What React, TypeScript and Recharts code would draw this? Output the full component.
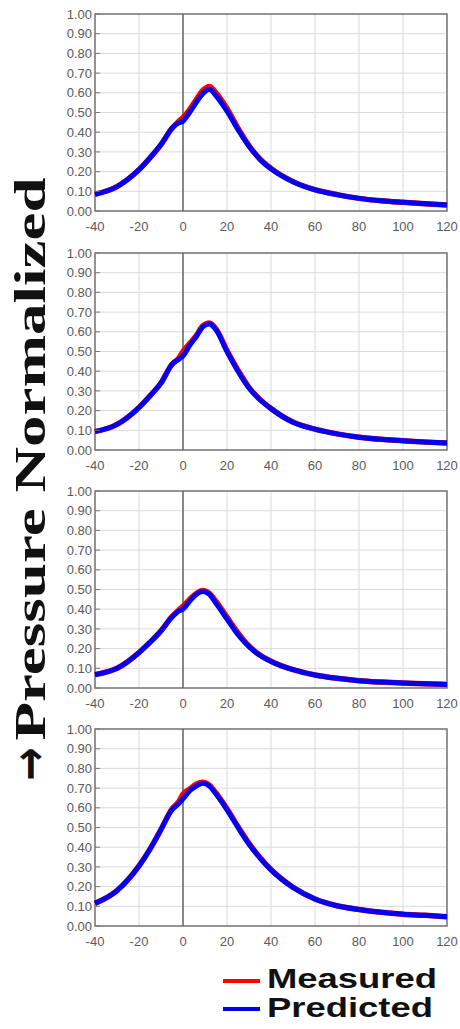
import React from "react";
import { LineChart, Line, XAxis, YAxis, CartesianGrid, ReferenceLine, ReferenceArea } from "recharts";

// shared x positions (time) for all four panels
const xValues = [-40, -30, -20, -15, -10, -5, -2, 0, 3, 6, 9, 12, 15, 20, 25, 30, 35, 40, 50, 60, 70, 80, 90, 100, 110, 120];

const measured1 = [0.085, 0.124, 0.21, 0.27, 0.337, 0.42, 0.455, 0.475, 0.515, 0.565, 0.612, 0.632, 0.6, 0.52, 0.42, 0.332, 0.264, 0.216, 0.149, 0.108, 0.083, 0.064, 0.052, 0.044, 0.037, 0.031];
const predicted1 = [0.085, 0.124, 0.21, 0.27, 0.337, 0.42, 0.447, 0.456, 0.5, 0.55, 0.595, 0.618, 0.585, 0.507, 0.413, 0.328, 0.262, 0.214, 0.148, 0.107, 0.083, 0.064, 0.052, 0.044, 0.037, 0.031];

const measured2 = [0.093, 0.13, 0.216, 0.275, 0.34, 0.435, 0.465, 0.5, 0.54, 0.58, 0.63, 0.645, 0.615, 0.505, 0.405, 0.318, 0.257, 0.211, 0.142, 0.106, 0.082, 0.065, 0.054, 0.047, 0.04, 0.035];
const predicted2 = [0.093, 0.13, 0.216, 0.275, 0.34, 0.435, 0.46, 0.477, 0.53, 0.575, 0.625, 0.64, 0.61, 0.5, 0.4, 0.315, 0.255, 0.21, 0.141, 0.106, 0.082, 0.065, 0.054, 0.047, 0.04, 0.035];

const measured3 = [0.068, 0.1, 0.18, 0.232, 0.29, 0.362, 0.395, 0.415, 0.45, 0.48, 0.495, 0.48, 0.44, 0.36, 0.28, 0.213, 0.167, 0.136, 0.093, 0.066, 0.049, 0.037, 0.03, 0.025, 0.022, 0.018];
const predicted3 = [0.068, 0.1, 0.18, 0.232, 0.29, 0.36, 0.39, 0.4, 0.44, 0.475, 0.49, 0.475, 0.43, 0.35, 0.27, 0.21, 0.165, 0.135, 0.093, 0.066, 0.049, 0.037, 0.03, 0.025, 0.022, 0.018];

const measured4 = [0.115, 0.18, 0.305, 0.39, 0.49, 0.595, 0.63, 0.67, 0.695, 0.72, 0.73, 0.715, 0.675, 0.595, 0.505, 0.42, 0.348, 0.287, 0.197, 0.137, 0.103, 0.084, 0.07, 0.06, 0.054, 0.047];
const predicted4 = [0.115, 0.18, 0.305, 0.39, 0.49, 0.59, 0.62, 0.645, 0.685, 0.71, 0.725, 0.71, 0.67, 0.59, 0.5, 0.415, 0.345, 0.285, 0.196, 0.137, 0.103, 0.084, 0.07, 0.06, 0.054, 0.047];

const xTicks = [-40, -20, 0, 20, 40, 60, 80, 100, 120];
const yTicks = [0, 0.1, 0.2, 0.3, 0.4, 0.5, 0.6, 0.7, 0.8, 0.9, 1.0];

const panels = [
  { top: 14, measured: measured1, predicted: predicted1 },
  { top: 253, measured: measured2, predicted: predicted2 },
  { top: 491, measured: measured3, predicted: predicted3 },
  { top: 729, measured: measured4, predicted: predicted4 },
];

const tickFont = "'Liberation Sans', Arial, sans-serif";

const YTick = (props: any) => {
  const { x, y, payload } = props;
  return (
    <g>
      <line x1={x + 3} x2={x + 8} y1={y} y2={y} stroke="#777" strokeWidth={1} />
      <text x={x} y={y} dy="0.36em" textAnchor="end" fill="#5a5a5a" fontSize={13} fontFamily={tickFont}>
        {Number(payload.value).toFixed(2)}
      </text>
    </g>
  );
};

function Panel({ measured, predicted }: { measured: number[]; predicted: number[] }) {
  const data = xValues.map((x, i) => ({ x, measured: measured[i], predicted: predicted[i] }));
  return (
    <LineChart width={460} height={240} data={data} margin={{ top: 10, right: 13, bottom: 3, left: 0 }}>
      <CartesianGrid stroke="#dadada" strokeWidth={1} />
      <XAxis
        dataKey="x"
        type="number"
        domain={[-40, 120]}
        ticks={xTicks}
        height={30}
        tickSize={0}
        tickMargin={11}
        axisLine={false}
        tickLine={false}
        interval={0}
        tick={{ fontSize: 13, fill: "#5a5a5a", fontFamily: tickFont }}
      />
      <YAxis
        type="number"
        domain={[0, 1]}
        ticks={yTicks}
        width={95}
        tickSize={0}
        tickMargin={3}
        axisLine={false}
        tickLine={false}
        interval={0}
        tick={<YTick />}
      />
      <ReferenceArea x1={-40} x2={120} y1={0} y2={1} fill="none" stroke="#777" strokeWidth={1.5} />
      <ReferenceLine x={0} stroke="#666" strokeWidth={1.5} />
      <Line type="monotone" dataKey="measured" stroke="#ff0000" strokeWidth={5.5} dot={false} isAnimationActive={false} />
      <Line type="monotone" dataKey="predicted" stroke="#0000f0" strokeWidth={5} dot={false} isAnimationActive={false} />
    </LineChart>
  );
}

export default function App() {
  return (
    <div style={{ position: "absolute", left: 0, top: 0, width: 460, height: 1029, background: "#fff", overflow: "hidden" }}>
      {panels.map((p, i) => (
        <div key={i} style={{ position: "absolute", left: 0, top: p.top - 10 }}>
          <Panel measured={p.measured} predicted={p.predicted} />
        </div>
      ))}
      <svg width={460} height={1029} style={{ position: "absolute", left: 0, top: 0, pointerEvents: "none" }}>
        {/* vertical axis title */}
        <text
          transform="translate(45, 459) rotate(-90)"
          textAnchor="middle"
          fontSize={44}
          fontWeight="bold"
          fontFamily="'Liberation Serif', 'Times New Roman', serif"
          fill="#111"
          textLength={563}
          lengthAdjust="spacingAndGlyphs"
        >
          Pressure Normalized
        </text>
        <text
          transform="translate(46, 764) rotate(-90) scale(1, 1.2)"
          textAnchor="middle"
          fontSize={40}
          fontWeight="bold"
          fontFamily="'DejaVu Sans', sans-serif"
          fill="#111"
        >
          →
        </text>
        {/* legend */}
        <line x1={223} x2={260} y1={981} y2={981} stroke="#ff0000" strokeWidth={4} />
        <text x={267} y={988} fontSize={28} fontWeight="bold" fontFamily="'Liberation Sans', Arial, sans-serif" fill="#111" textLength={170} lengthAdjust="spacingAndGlyphs">
          Measured
        </text>
        <line x1={223} x2={260} y1={1009} y2={1009} stroke="#0000f0" strokeWidth={4} />
        <text x={267} y={1017} fontSize={28} fontWeight="bold" fontFamily="'Liberation Sans', Arial, sans-serif" fill="#111" textLength={166} lengthAdjust="spacingAndGlyphs">
          Predicted
        </text>
      </svg>
    </div>
  );
}
